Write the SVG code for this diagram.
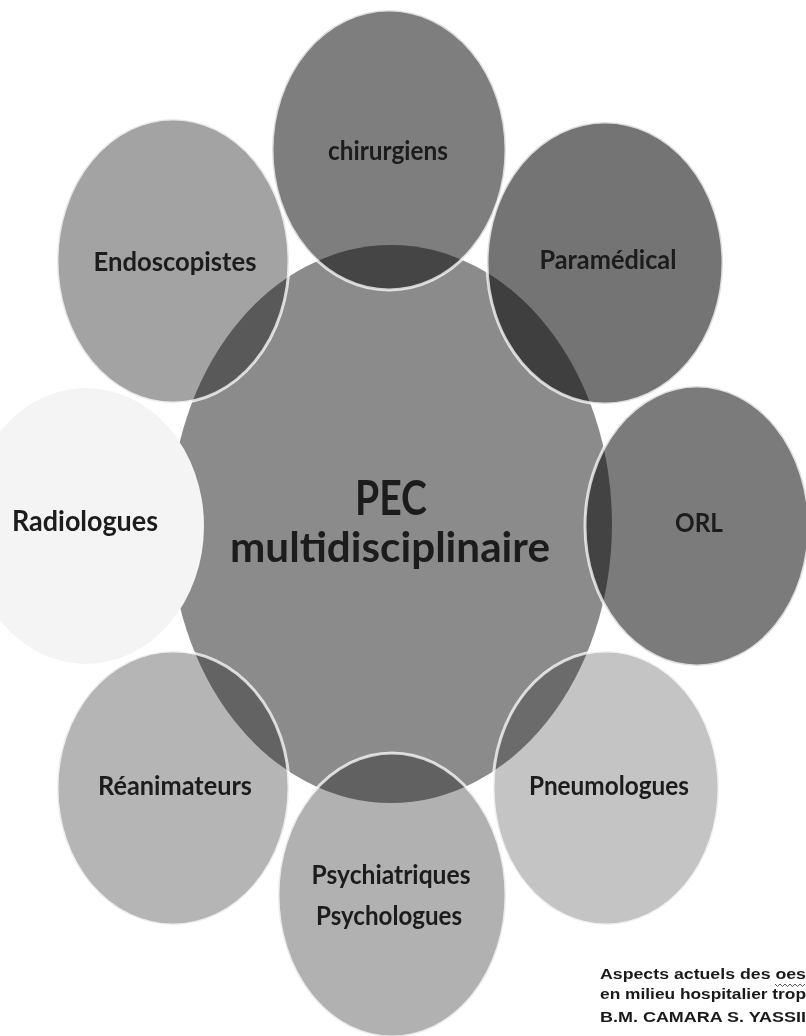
<svg xmlns="http://www.w3.org/2000/svg" width="806" height="1036" viewBox="0 0 806 1036">
<style>
.bub{mix-blend-mode:multiply}
.rim{fill:none;stroke:#ffffff;stroke-width:3;stroke-opacity:0.75}
.lbl{font-family:"Lato","Liberation Sans",sans-serif;font-weight:bold;fill:#1c1c1c;text-anchor:middle}
.foot{font-family:"Liberation Sans",Arial,sans-serif;font-weight:bold;fill:#1a1a1a}
</style>
<rect width="806" height="1036" fill="#ffffff"/>
<g id="center">
<ellipse cx="391" cy="524" rx="221" ry="279" fill="#8b8b8b"/>
</g>
<g id="radiologues">
<ellipse cx="86" cy="526" rx="118" ry="138" fill="#f4f4f4"/>
<text class="lbl" x="85" y="531" font-size="28" textLength="146" lengthAdjust="spacingAndGlyphs">Radiologues</text>
</g>
<g id="endoscopistes">
<ellipse class="bub" cx="173" cy="261" rx="116" ry="142" fill="#a3a3a3"/>
<ellipse class="rim" cx="173" cy="261" rx="116" ry="142"/>
</g>
<g id="chirurgiens">
<ellipse class="bub" cx="389" cy="150" rx="117" ry="140" fill="#7e7e7e"/>
<ellipse class="rim" cx="389" cy="150" rx="117" ry="140"/>
</g>
<g id="paramedical">
<ellipse class="bub" cx="605" cy="263" rx="118" ry="141" fill="#747474"/>
<ellipse class="rim" cx="605" cy="263" rx="118" ry="141"/>
</g>
<g id="orl">
<ellipse class="bub" cx="697" cy="526" rx="112" ry="140" fill="#7b7b7b"/>
<ellipse class="rim" cx="697" cy="526" rx="112" ry="140"/>
</g>
<g id="pneumologues">
<ellipse class="bub" cx="606" cy="788" rx="113" ry="137" fill="#c4c4c4"/>
<ellipse class="rim" cx="606" cy="788" rx="113" ry="137"/>
</g>
<g id="psychiatriques">
<ellipse class="bub" cx="392" cy="895" rx="114" ry="142" fill="#b1b1b1"/>
<ellipse class="rim" cx="392" cy="895" rx="114" ry="142"/>
</g>
<g id="reanimateurs">
<ellipse class="bub" cx="173" cy="788" rx="116" ry="137" fill="#b5b5b5"/>
<ellipse class="rim" cx="173" cy="788" rx="116" ry="137"/>
</g>
<g id="labels">
<text class="lbl" x="388" y="160" font-size="27" textLength="120" lengthAdjust="spacingAndGlyphs">chirurgiens</text>
<text class="lbl" x="175" y="271" font-size="27" textLength="163" lengthAdjust="spacingAndGlyphs">Endoscopistes</text>
<text class="lbl" x="608" y="269" font-size="27" textLength="137" lengthAdjust="spacingAndGlyphs">Paramédical</text>
<text class="lbl" x="699" y="532" font-size="27" textLength="48" lengthAdjust="spacingAndGlyphs">ORL</text>
<text class="lbl" x="391" y="515" font-size="48" textLength="72" lengthAdjust="spacingAndGlyphs">PEC</text>
<text class="lbl" x="390" y="562" font-size="42" textLength="320" lengthAdjust="spacingAndGlyphs">multidisciplinaire</text>
<text class="lbl" x="175" y="795" font-size="27" textLength="154" lengthAdjust="spacingAndGlyphs">Réanimateurs</text>
<text class="lbl" x="609" y="795" font-size="27" textLength="160" lengthAdjust="spacingAndGlyphs">Pneumologues</text>
<text class="lbl" x="391" y="884" font-size="27" textLength="159" lengthAdjust="spacingAndGlyphs">Psychiatriques</text>
<text class="lbl" x="389" y="925" font-size="27" textLength="146" lengthAdjust="spacingAndGlyphs">Psychologues</text>
</g>
<g id="footer">
<text class="foot" x="600" y="979" font-size="15" textLength="206" lengthAdjust="spacingAndGlyphs">Aspects  actuels des oes</text>
<path d="M775 984 l2.5 2.5 l2.5 -2.5 l2.5 2.5 l2.5 -2.5 l2.5 2.5 l2.5 -2.5 l2.5 2.5 l2.5 -2.5 l2.5 2.5 l2.5 -2.5 l2.5 2.5 l2.5 -2.5" fill="none" stroke="#555" stroke-width="1"/>
<text class="foot" x="600" y="999" font-size="15" textLength="206" lengthAdjust="spacingAndGlyphs">en milieu hospitalier trop</text>
<text class="foot" x="600" y="1022" font-size="14" font-weight="normal" fill="#333" textLength="206" lengthAdjust="spacingAndGlyphs">B.M. CAMARA  S. YASSII</text>
</g>
</svg>
